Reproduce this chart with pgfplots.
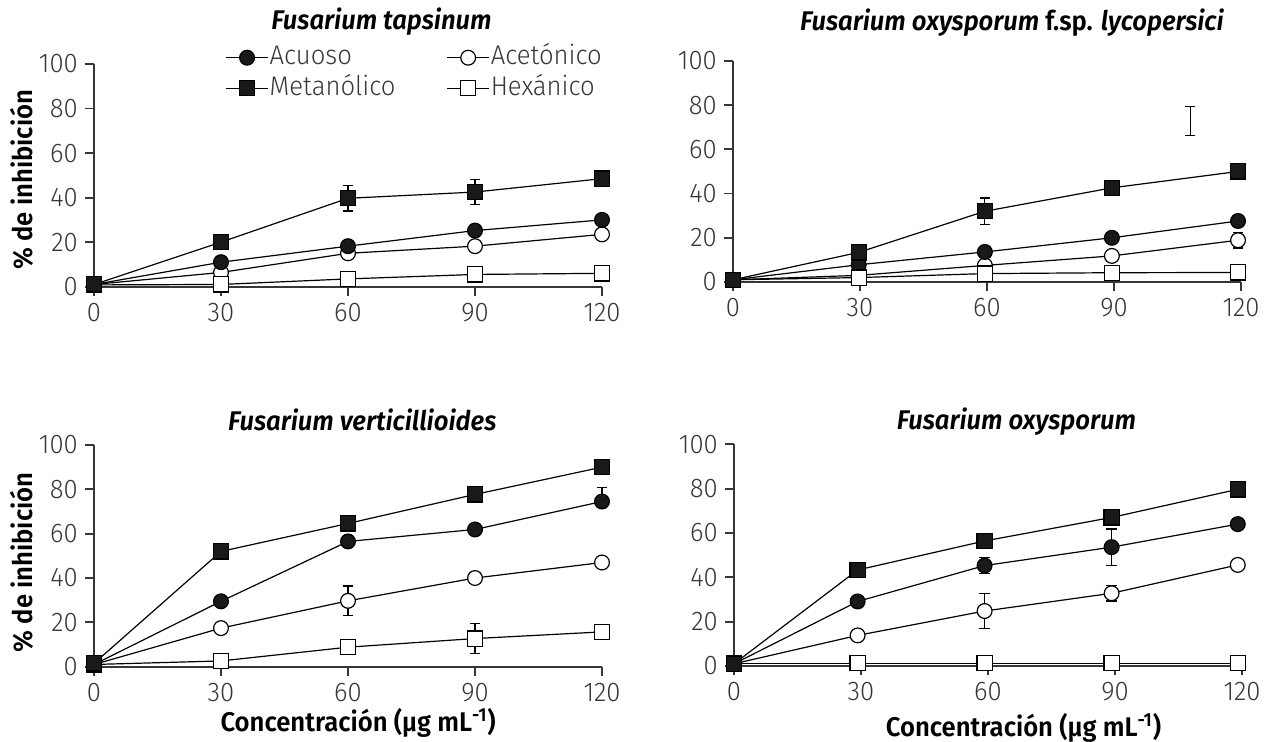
\documentclass[border=0pt]{standalone}
\usepackage{pgfplots}
\pgfplotsset{compat=1.18}
\usepackage{fontspec}
\setmainfont{Fira Sans Light}[BoldFont={Fira Sans SemiBold}, ItalicFont={Fira Sans Light Italic}, BoldItalicFont={Fira Sans SemiBold Italic}, FakeStretch=0.95]
\definecolor{axgray}{RGB}{55,55,55}
\definecolor{mk}{RGB}{25,25,25}
\pgfplotsset{
  every axis title shift=0pt,
  panel/.style={
    scale only axis, width=254pt,
    xmin=0, xmax=120, ymin=0, ymax=100, clip=false,
    axis lines*=left, axis line style={-, line width=0.9pt, color=axgray},
    xtick={0,30,60,90,120}, ytick={0,20,40,60,80,100},
    tick align=outside, major tick length=4.6pt,
    tick style={line width=0.9pt, color=axgray},
    /pgf/number format/assume math mode=true,
    tick label style={font=\fontsize{13.5}{15}\selectfont, color=axgray},
    title style={font=\fontsize{13.5}{15}\selectfont\bfseries\itshape, anchor=center},
    label style={font=\fontsize{13.5}{15}\selectfont\bfseries},
  },
  acu/.style={line width=0.6pt, black, mark=*, mark size=3.7pt, mark options={fill=mk, draw=black, line width=0.6pt}},
  ace/.style={line width=0.6pt, black, mark=*, mark size=3.7pt, mark options={fill=white, draw=black, line width=0.6pt}},
  met/.style={line width=0.6pt, black, mark=square*, mark size=3.8pt, mark options={fill=mk, draw=black, line width=0.6pt}},
  hex/.style={line width=0.6pt, black, mark=square*, mark size=3.8pt, mark options={fill=white, draw=black, line width=0.6pt}},
  eb/.style={forget plot, draw=none, mark=none,
    error bars/.cd, y dir=both, y explicit,
    error bar style={draw=black, line width=0.6pt},
    error mark options={rotate=90, mark size=2.6pt, draw=black, line width=0.6pt}},
  ebup/.style={forget plot, draw=none, mark=none,
    error bars/.cd, y dir=plus, y explicit,
    error bar style={draw=black, line width=0.6pt},
    error mark options={rotate=90, mark size=2.6pt, draw=black, line width=0.6pt}},
}
\begin{document}
\begin{tikzpicture}
\useasboundingbox (0pt,0pt) rectangle (638pt,-371pt);
% ---------- Panel 1 ----------
\begin{axis}[panel, at={(47pt,-143.35pt)}, anchor=south west, height=111.35pt,
  title={Fusarium tapsinum}, title style={at={(axis description cs:0.566,1.189)}},
  ylabel={\% de inhibición}, ylabel style={at={(axis description cs:-0.142,0.48)}, anchor=center},
  legend columns=2,
  legend style={at={(0.258,1.087)}, anchor=north west, draw=none, fill=none, inner sep=0pt,
    font=\fontsize{13.5}{15}\selectfont, text=axgray, row sep=2.5pt,
    nodes={inner sep=0.5pt, text height=9.3pt, text depth=2.4pt},
    /tikz/column 2/.style={column sep=25pt}},
  legend cell align=left,
  legend image code/.code={\draw[mark repeat=2, mark phase=2] plot coordinates {(0pt,0pt) (10.5pt,0pt) (21pt,0pt)};},
]
\addlegendimage{acu}\addlegendentry{Acuoso}
\addlegendimage{ace}\addlegendentry{Acetónico}
\addlegendimage{met}\addlegendentry{Metanólico}
\addlegendimage{hex}\addlegendentry{Hexánico}
\addplot[eb] coordinates {(60,39.7) +- (0,5.7) (90,42.5) +- (0,5.5)};
\addplot[ace, forget plot] coordinates {(0,1)(30,6.4)(60,15)(90,18.2)(120,23.5)};
\addplot[acu, forget plot] coordinates {(0,1)(30,11)(60,18.2)(90,25.2)(120,30)};
\addplot[hex, forget plot] coordinates {(0,0.8)(30,1)(60,3.5)(90,5.5)(120,6)};
\addplot[met, forget plot] coordinates {(0,1)(30,20)(60,39.7)(90,42.5)(120,48.5)};
\end{axis}
% ---------- Panel 2 ----------
\begin{axis}[panel, at={(366.5pt,-141pt)}, anchor=south west, height=110.5pt,
  title={Fusarium oxysporum \textup{f.sp.} lycopersici}, title style={at={(axis description cs:0.549,1.172)}},
]
\addplot[eb] coordinates {(59.5,32) +- (0,6) (119.3,18.9) +- (0,3.5) (108,72.8) +- (0,6.5)};
\addplot[ace] coordinates {(0,1)(29.7,3)(59.5,7.5)(89.5,11.8)(119.3,18.9)};
\addplot[acu] coordinates {(0,1)(29.7,7.8)(59.5,13.6)(89.5,20)(119.3,27.6)};
\addplot[hex] coordinates {(0,1)(29.7,2)(59.5,3.8)(89.5,4.2)(119.3,4.3)};
\addplot[met] coordinates {(0,1)(29.7,13.4)(59.5,32)(89.5,42.6)(119.3,50)};
\end{axis}
% ---------- Panel 3 ----------
\begin{axis}[panel, at={(47pt,-333.35pt)}, anchor=south west, height=110.85pt,
  title={Fusarium verticillioides}, title style={at={(axis description cs:0.528,1.113)}},
  ylabel={\% de inhibición}, ylabel style={at={(axis description cs:-0.142,0.47)}, anchor=center},
  xlabel={Concentración (µg mL\textsuperscript{-1})}, xlabel style={at={(axis description cs:0.52,-0.254)}, anchor=center, inner sep=0pt},
]
\addplot[ebup] coordinates {(120,74.5) +- (0,6.2)};
\addplot[eb] coordinates {(60,29.7) +- (0,6.7) (90,12.7) +- (0,6.7)};
\addplot[ace] coordinates {(0,1)(30,17.4)(60,29.7)(90,40)(120,47)};
\addplot[acu] coordinates {(0,1)(30,29.5)(60,56.5)(90,61.9)(120,74.5)};
\addplot[hex] coordinates {(0,1)(30,2.6)(60,8.8)(90,12.7)(120,15.7)};
\addplot[met] coordinates {(0,1.5)(30,52)(60,64.6)(90,77.7)(120,90)};
\end{axis}
% ---------- Panel 4 ----------
\begin{axis}[panel, at={(367pt,-333pt)}, anchor=south west, height=110.85pt,
  title={Fusarium oxysporum}, title style={at={(axis description cs:0.556,1.10)}},
  xlabel={Concentración (µg mL\textsuperscript{-1})}, xlabel style={at={(axis description cs:0.57,-0.28)}, anchor=center, inner sep=0pt},
]
\addplot[eb] coordinates {(59.2,45.3) +- (0,3.5) (89.2,53.6) +- (0,8.2) (59.2,24.8) +- (0,8) (89.2,32.8) +- (0,3.5)};
\addplot[ace] coordinates {(0,1)(29.2,13.8)(59.2,24.8)(89.2,32.8)(119,45.6)};
\addplot[acu] coordinates {(0,1)(29.2,29.1)(59.2,45.3)(89.2,53.6)(119,64)};
\addplot[hex] coordinates {(0,1.3)(29.2,1.3)(59.2,1.3)(89.2,1.3)(119,1.3)};
\addplot[met] coordinates {(0,1)(29.2,43.3)(59.2,56.4)(89.2,67)(119,79.7)};
\end{axis}
\end{tikzpicture}
\end{document}
